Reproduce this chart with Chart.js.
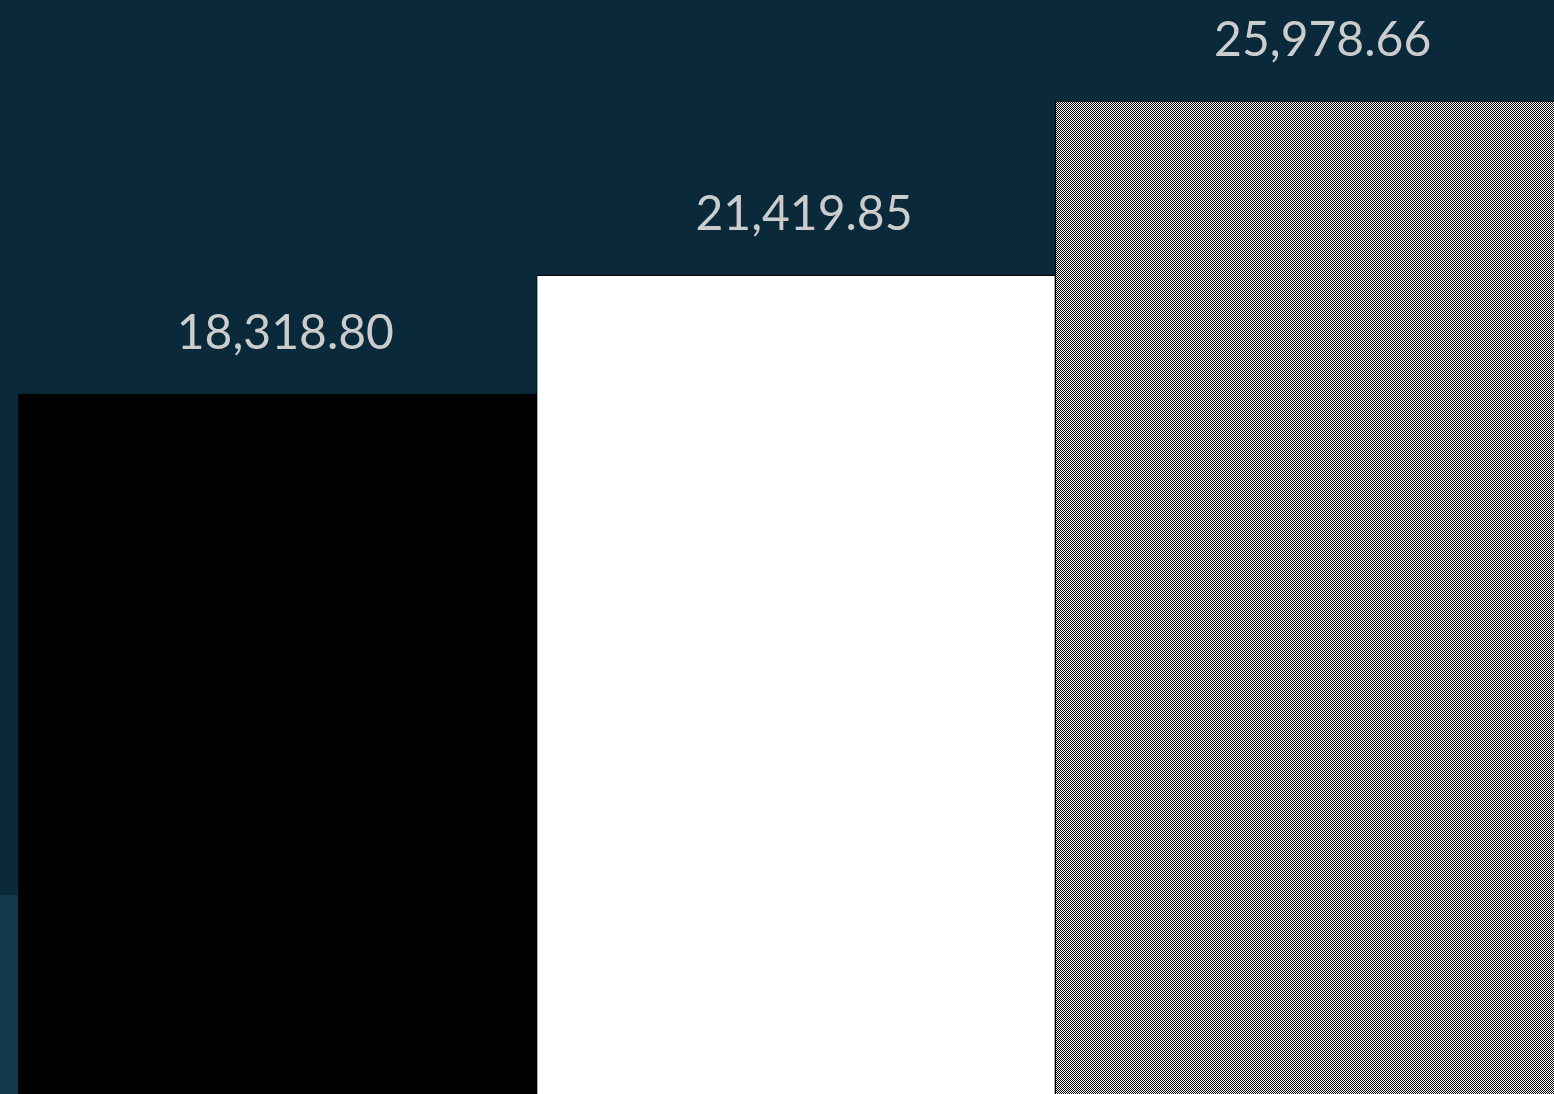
<!DOCTYPE html>
<html lang="en">
<head>
    <meta charset="UTF-8">
    <title>Bar chart</title>
    <script src="https://cdn.jsdelivr.net/npm/chart.js"></script>
    <style>
        html, body { margin: 0; padding: 0; overflow: hidden; background: #0a2a3b; }
        #wrap { position: absolute; left: 0; top: 0; width: 1574px; height: 1095px; }
    </style>
</head>
<body>
    <div id="wrap"><canvas id="barChart" width="1574" height="1095"></canvas></div>
    <script>
        // data
        const categories = ['1', '2', '3'];
        const values = [18318.80, 21419.85, 25978.66];
        const yMin = 0;
        const yMax = 28618;

        // checkered fill for the third bar
        const pc = document.createElement('canvas');
        pc.width = 2; pc.height = 2;
        const pctx = pc.getContext('2d');
        pctx.fillStyle = '#ffffff';
        pctx.fillRect(0, 0, 2, 2);
        pctx.fillStyle = '#000000';
        pctx.fillRect(0, 0, 1, 1);
        pctx.fillRect(1, 1, 1, 1);

        const ctx = document.getElementById('barChart').getContext('2d');
        const checker = ctx.createPattern(pc, 'repeat');

        const backdrop = {
            id: 'backdrop',
            beforeDraw(chart) {
                const c = chart.ctx;
                c.save();
                c.fillStyle = '#0a2a3b';
                c.fillRect(0, 0, chart.width, chart.height);
                c.fillStyle = '#143a50';
                c.fillRect(0, 895, chart.chartArea.left, chart.height - 895);
                c.restore();
            }
        };

        const valueLabels = {
            id: 'valueLabels',
            afterDatasetsDraw(chart) {
                const c = chart.ctx;
                const meta = chart.getDatasetMeta(0);
                c.save();
                c.font = '48px Lato';
                c.fillStyle = '#cccccc';
                c.textAlign = 'center';
                c.textBaseline = 'alphabetic';
                meta.data.forEach((bar, i) => {
                    const txt = values[i].toLocaleString('en-US', { minimumFractionDigits: 2, maximumFractionDigits: 2 });
                    c.fillText(txt, bar.x + 8, bar.y - 45);
                });
                c.restore();
            }
        };

        new Chart(ctx, {
            type: 'bar',
            data: {
                labels: categories,
                datasets: [{
                    data: values,
                    backgroundColor: ['#000000', '#ffffff', checker],
                    borderColor: '#000000',
                    borderWidth: 1,
                    barPercentage: 1,
                    categoryPercentage: 1
                }]
            },
            options: {
                responsive: false,
                devicePixelRatio: 1,
                animation: false,
                layout: { padding: { left: 18, right: 0, top: 0, bottom: 0 } },
                plugins: {
                    legend: { display: false },
                    tooltip: { enabled: false }
                },
                scales: {
                    x: { display: false },
                    y: { display: false, min: yMin, max: yMax }
                }
            },
            plugins: [backdrop, valueLabels]
        });
    </script>
</body>
</html>
